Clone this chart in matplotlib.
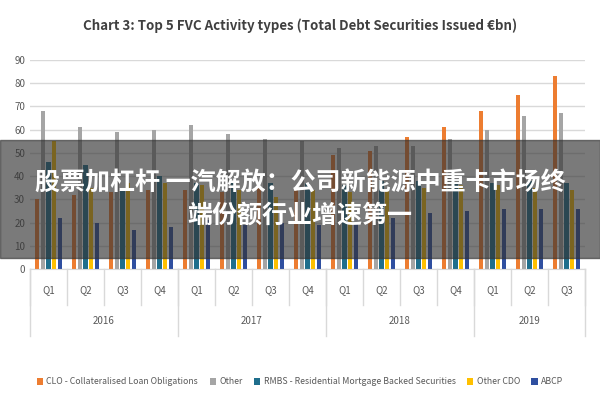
import numpy as np
import matplotlib.pyplot as plt

quarters = ['Q1', 'Q2', 'Q3', 'Q4'] * 3 + ['Q1', 'Q2', 'Q3']
years = ['2016', '2017', '2018', '2019']
year_sizes = [4, 4, 4, 3]

series_names = ['CLO - Collateralised Loan Obligations', 'Other',
                'RMBS - Residential Mortgage Backed Securities', 'Other CDO', 'ABCP']
clo = [30, 32, 33, 34, 34, 33, 35, 35, 49, 51, 57, 61, 68, 75, 83]
other = [68, 61, 59, 60, 62, 58, 56, 55, 52, 53, 53, 56, 60, 66, 67]
rmbs = [46, 45, 35, 40, 37, 37, 37, 37, 36, 38, 38, 37, 37, 38, 37]
other_cdo = [55, 35, 37, 37, 36, 34, 31, 34, 33, 34, 35, 36, 36, 35, 34]
abcp = [22, 20, 17, 18, 21, 19, 20, 19, 20, 22, 24, 25, 26, 26, 26]
colors = ['#ED7D31', '#A5A5A5', '#1F6E8C', '#FFC000', '#2F4FA0']

plt.rcParams['font.family'] = ['Noto Sans CJK SC', 'DejaVu Sans']

fig = plt.figure(figsize=(6, 4), dpi=100)
ax = fig.add_axes([0.05, 0.3275, 0.925, 0.5225])

x = np.arange(len(quarters))
w = 0.12
for i, (vals, c) in enumerate(zip([clo, other, rmbs, other_cdo, abcp], colors)):
    ax.bar(x + (i - 2) * 0.155, vals, w, color=c, label=series_names[i])

ax.set_xlim(-0.5, len(quarters) - 0.5)
ax.set_ylim(0, 90)
ax.set_yticks(range(0, 91, 10))
ax.tick_params(axis='y', length=0, labelsize=7, colors='#595959')
ax.grid(axis='y', color='#D9D9D9', linewidth=1)
ax.set_axisbelow(True)
for s in ['top', 'right', 'left']:
    ax.spines[s].set_visible(False)
ax.spines['bottom'].set_color('#D9D9D9')
ax.set_xticks([])

# two level category axis
tr = ax.get_xaxis_transform()
for xi, q in zip(x, quarters):
    ax.text(xi, -0.1, q, transform=tr, ha='center', va='center', fontsize=7, color='#595959')
for xb in np.arange(-0.5, len(quarters), 1.0):
    ax.plot([xb, xb], [0, -0.17], transform=tr, color='#D9D9D9', lw=1, clip_on=False)
start = 0
for y, n in zip(years, year_sizes):
    ax.text(start + (n - 1) / 2, -0.25, y, transform=tr, ha='center', va='center',
            fontsize=7, color='#595959')
    ax.plot([start - 0.5, start - 0.5], [0, -0.32], transform=tr, color='#D9D9D9', lw=1, clip_on=False)
    start += n
ax.plot([start - 0.5, start - 0.5], [0, -0.32], transform=tr, color='#D9D9D9', lw=1, clip_on=False)

fig.text(0.5, 0.935, 'Chart 3: Top 5 FVC Activity types (Total Debt Securities Issued €bn)',
         ha='center', va='center', fontsize=9.6, fontweight='bold', color='#404040')

fig.legend(loc='center', bbox_to_anchor=(0.5, 0.045), ncol=5, frameon=False, fontsize=6.3,
           handlelength=0.7, handleheight=0.7, columnspacing=1.3, handletextpad=0.4,
           labelcolor='#595959')

# dark caption band over the chart
fig.patches.append(plt.Rectangle((0, 0.355), 1, 0.295, transform=fig.transFigure,
                                 color='#333333', alpha=0.65, zorder=5))
fig.text(0.5, 0.54, '股票加杠杆 一汽解放：公司新能源中重卡市场终', ha='center', va='center',
         fontsize=18, fontweight='bold', color='white', zorder=6)
fig.text(0.5, 0.46, '端份额行业增速第一', ha='center', va='center',
         fontsize=18, fontweight='bold', color='white', zorder=6)

fig.savefig('out.png', dpi=100)
